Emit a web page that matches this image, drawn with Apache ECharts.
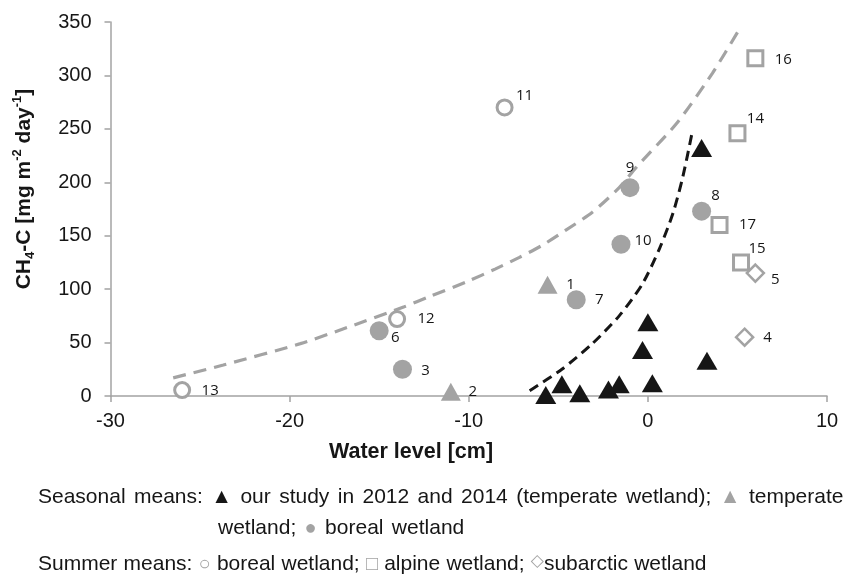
<!DOCTYPE html>
<html>
<head>
<meta charset="utf-8">
<script src="https://cdn.jsdelivr.net/npm/echarts@6/dist/echarts.min.js"></script>
<style>html,body{margin:0;padding:0;background:#fff}#c{width:845px;height:575px}</style>
</head>
<body>
<div id="c"></div>
<script>
// ---- data ----
// [water level cm, CH4-C mg m-2 day-1]
const ourStudy = [[-5.7, 1], [-4.8, 11], [-3.8, 2.5], [-2.2, 6], [-1.6, 11], [-0.3, 43], [0.0, 69], [0.25, 12], [3.3, 33], [3.0, 232]];
// [x, y, label id]
const temperate = [[-5.6, 104, '1'], [-11.0, 4, '2']];
const borealSeasonal = [[-13.7, 25, '3'], [-15.0, 61, '6'], [-4.0, 90, '7'], [3.0, 173, '8'], [-1.0, 195, '9'], [-1.5, 142, '10']];
const borealSummer = [[-8.0, 270, '11'], [-14.0, 72, '12'], [-26.0, 5.5, '13']];
const alpine = [[5.0, 246, '14'], [5.2, 125, '15'], [6.0, 316, '16'], [4.0, 160, '17']];
const subarctic = [[5.4, 55, '4'], [6.0, 115, '5']];
// trend curves
const greyCurve = [[-26.5, 17], [-23.7, 29], [-19.4, 49], [-16.8, 64], [-13.6, 83.5], [-12.2, 93], [-10.1, 107], [-8.5, 119], [-7.2, 129.5], [-5.9, 141], [-4.6, 155], [-3.1, 172], [-1.6, 195], [-0.65, 214], [1.6, 255], [3.6, 302], [5.1, 343]];
const blackCurve = [[-6.6, 5], [-4.8, 25], [-3.1, 49], [-1.6, 75], [-0.3, 105], [0.65, 138], [1.4, 171], [1.95, 205], [2.5, 249]];
const xTicks = [-30, -20, -10, 0, 10];
const yTicks = [0, 50, 100, 150, 200, 250, 300, 350];

// label placement (center offsets in px), separate from data
const labelOffset = {
  '1': [23, 0], '2': [22, 0], '3': [23, 1], '4': [23, 1], '5': [20, 7], '6': [16, 7],
  '7': [23, 0], '8': [14, -15], '9': [0, -20], '10': [22, -4], '11': [20, -12],
  '12': [29, 0], '13': [28, 1], '14': [18, -14], '15': [16, -14], '16': [28, 1], '17': [28, 0]
};

const GREY = '#a3a3a3';
const DARK = '#161616';
const labelFont = { fontFamily: 'Open Sans', fontSize: 15, color: DARK };

function labelled(arr) {
  return arr.map(d => ({
    value: [d[0], d[1]],
    label: { show: true, formatter: d[2], position: 'inside', offset: labelOffset[d[2]], ...labelFont }
  }));
}

// build rich text, replacing spaces of plain text with fixed-width space tokens
function rt(parts, sp) {
  return parts.map(([s, txt]) => s === 't'
    ? txt.split(' ').map(w => w ? '{t|' + w + '}' : '').join('{' + sp + '| }')
    : '{' + s + '|' + txt + '}').join('');
}

const legendRich = {
  t: { fontFamily: 'Liberation Sans', fontSize: 21, fill: DARK },
  w: { fontFamily: 'Liberation Sans', fontSize: 21, fill: DARK, width: 8.4 },
  v: { fontFamily: 'Liberation Sans', fontSize: 21, fill: DARK, width: 6.2 },
  k: { fontFamily: 'Liberation Sans', fontSize: 21, fill: DARK },
  g: { fontFamily: 'Liberation Sans', fontSize: 21, fill: GREY },
  s: { fontFamily: 'Liberation Sans', fontSize: 20, fill: GREY },
  d: { fontFamily: 'DejaVu Sans', fontSize: 17, fill: GREY, verticalAlign: 'top', padding: [0, 0, 3, 0] }
};

const chart = echarts.init(document.getElementById('c'), null, { renderer: 'canvas' });
chart.setOption({
  animation: false,
  backgroundColor: '#fff',
  grid: { left: 110.5, right: 18, top: 22, bottom: 179, containLabel: false },
  xAxis: {
    type: 'value', min: xTicks[0], max: xTicks[xTicks.length - 1], interval: 10,
    axisLine: { onZero: false, lineStyle: { color: GREY, width: 1.5 } },
    axisTick: { show: true, length: 6, lineStyle: { color: GREY, width: 1.5 } },
    axisLabel: { fontFamily: 'Liberation Sans', fontSize: 20, color: DARK, margin: 15 },
    splitLine: { show: false }
  },
  yAxis: {
    type: 'value', min: yTicks[0], max: yTicks[yTicks.length - 1], interval: 50,
    axisLine: { show: true, onZero: false, lineStyle: { color: GREY, width: 1.5 } },
    axisTick: { show: true, length: 6, lineStyle: { color: GREY, width: 1.5 } },
    axisLabel: { fontFamily: 'Liberation Sans', fontSize: 20, color: DARK, margin: 19 },
    splitLine: { show: false }
  },
  series: [
    { type: 'line', data: greyCurve, smooth: 0.25, showSymbol: false, z: 1,
      lineStyle: { color: GREY, width: 3.2, type: [13, 8] } },
    { type: 'line', data: blackCurve, smooth: 0.25, showSymbol: false, z: 1,
      lineStyle: { color: DARK, width: 3, type: [10, 6] } },
    { type: 'scatter', data: labelled(temperate), symbol: 'triangle', symbolSize: [20, 18],
      itemStyle: { color: GREY, opacity: 1 }, z: 3 },
    { type: 'scatter', data: labelled(borealSeasonal), symbol: 'circle', symbolSize: 19,
      itemStyle: { color: GREY, opacity: 1 }, z: 3 },
    { type: 'scatter', data: labelled(borealSummer), symbol: 'circle', symbolSize: 15,
      itemStyle: { color: '#fff', borderColor: GREY, borderWidth: 3, opacity: 1 }, z: 3 },
    { type: 'scatter', data: labelled(alpine), symbol: 'rect', symbolSize: 15,
      itemStyle: { color: '#fff', borderColor: GREY, borderWidth: 3, opacity: 1 }, z: 3 },
    { type: 'scatter', data: labelled(subarctic), symbol: 'diamond', symbolSize: 17,
      itemStyle: { color: '#fff', borderColor: GREY, borderWidth: 2.5, opacity: 1 }, z: 3 },
    { type: 'scatter', data: ourStudy, symbol: 'triangle', symbolSize: [21, 18],
      itemStyle: { color: DARK, opacity: 1 }, z: 4 }
  ],
  graphic: [
    { type: 'text', x: 411, y: 452, style: { text: 'Water level [cm]', fontFamily: 'Liberation Sans', fontWeight: 'bold', fontSize: 21.5, fill: DARK, align: 'center', verticalAlign: 'middle' } },
    { type: 'text', x: 24, y: 189, rotation: Math.PI / 2,
      style: {
        text: '{b|CH}{sub|4}{b|-C [mg m}{sup|-2}{b| day}{sup|-1}{b|]}',
        align: 'center', verticalAlign: 'middle',
        rich: {
          b: { fontFamily: 'Liberation Sans', fontWeight: 'bold', fontSize: 21, fill: DARK, lineHeight: 26 },
          sub: { fontFamily: 'Liberation Sans', fontWeight: 'bold', fontSize: 13, fill: DARK, verticalAlign: 'bottom', lineHeight: 26, padding: [10, 0, 0, 0] },
          sup: { fontFamily: 'Liberation Sans', fontWeight: 'bold', fontSize: 13, fill: DARK, verticalAlign: 'top', lineHeight: 26, padding: [0, 0, 10, 0] }
        }
      } },
    { type: 'text', x: 38, y: 497,
      style: { text: rt([['t', 'Seasonal means: '], ['k', '▲'], ['t', ' our study in 2012 and 2014 (temperate wetland); '], ['g', '▲'], ['t', ' temperate']], 'w'),
        verticalAlign: 'middle', rich: legendRich } },
    { type: 'text', x: 218, y: 528,
      style: { text: rt([['t', 'wetland; '], ['s', '●'], ['t', ' boreal wetland']], 'w'),
        verticalAlign: 'middle', rich: legendRich } },
    { type: 'text', x: 38, y: 564,
      style: { text: rt([['t', 'Summer means: '], ['s', '○'], ['t', ' boreal wetland; '], ['s', '□'], ['t', ' alpine wetland; '], ['d', '◇'], ['t', 'subarctic wetland']], 'v'),
        verticalAlign: 'middle', rich: legendRich } }
  ]
});
</script>
</body>
</html>
